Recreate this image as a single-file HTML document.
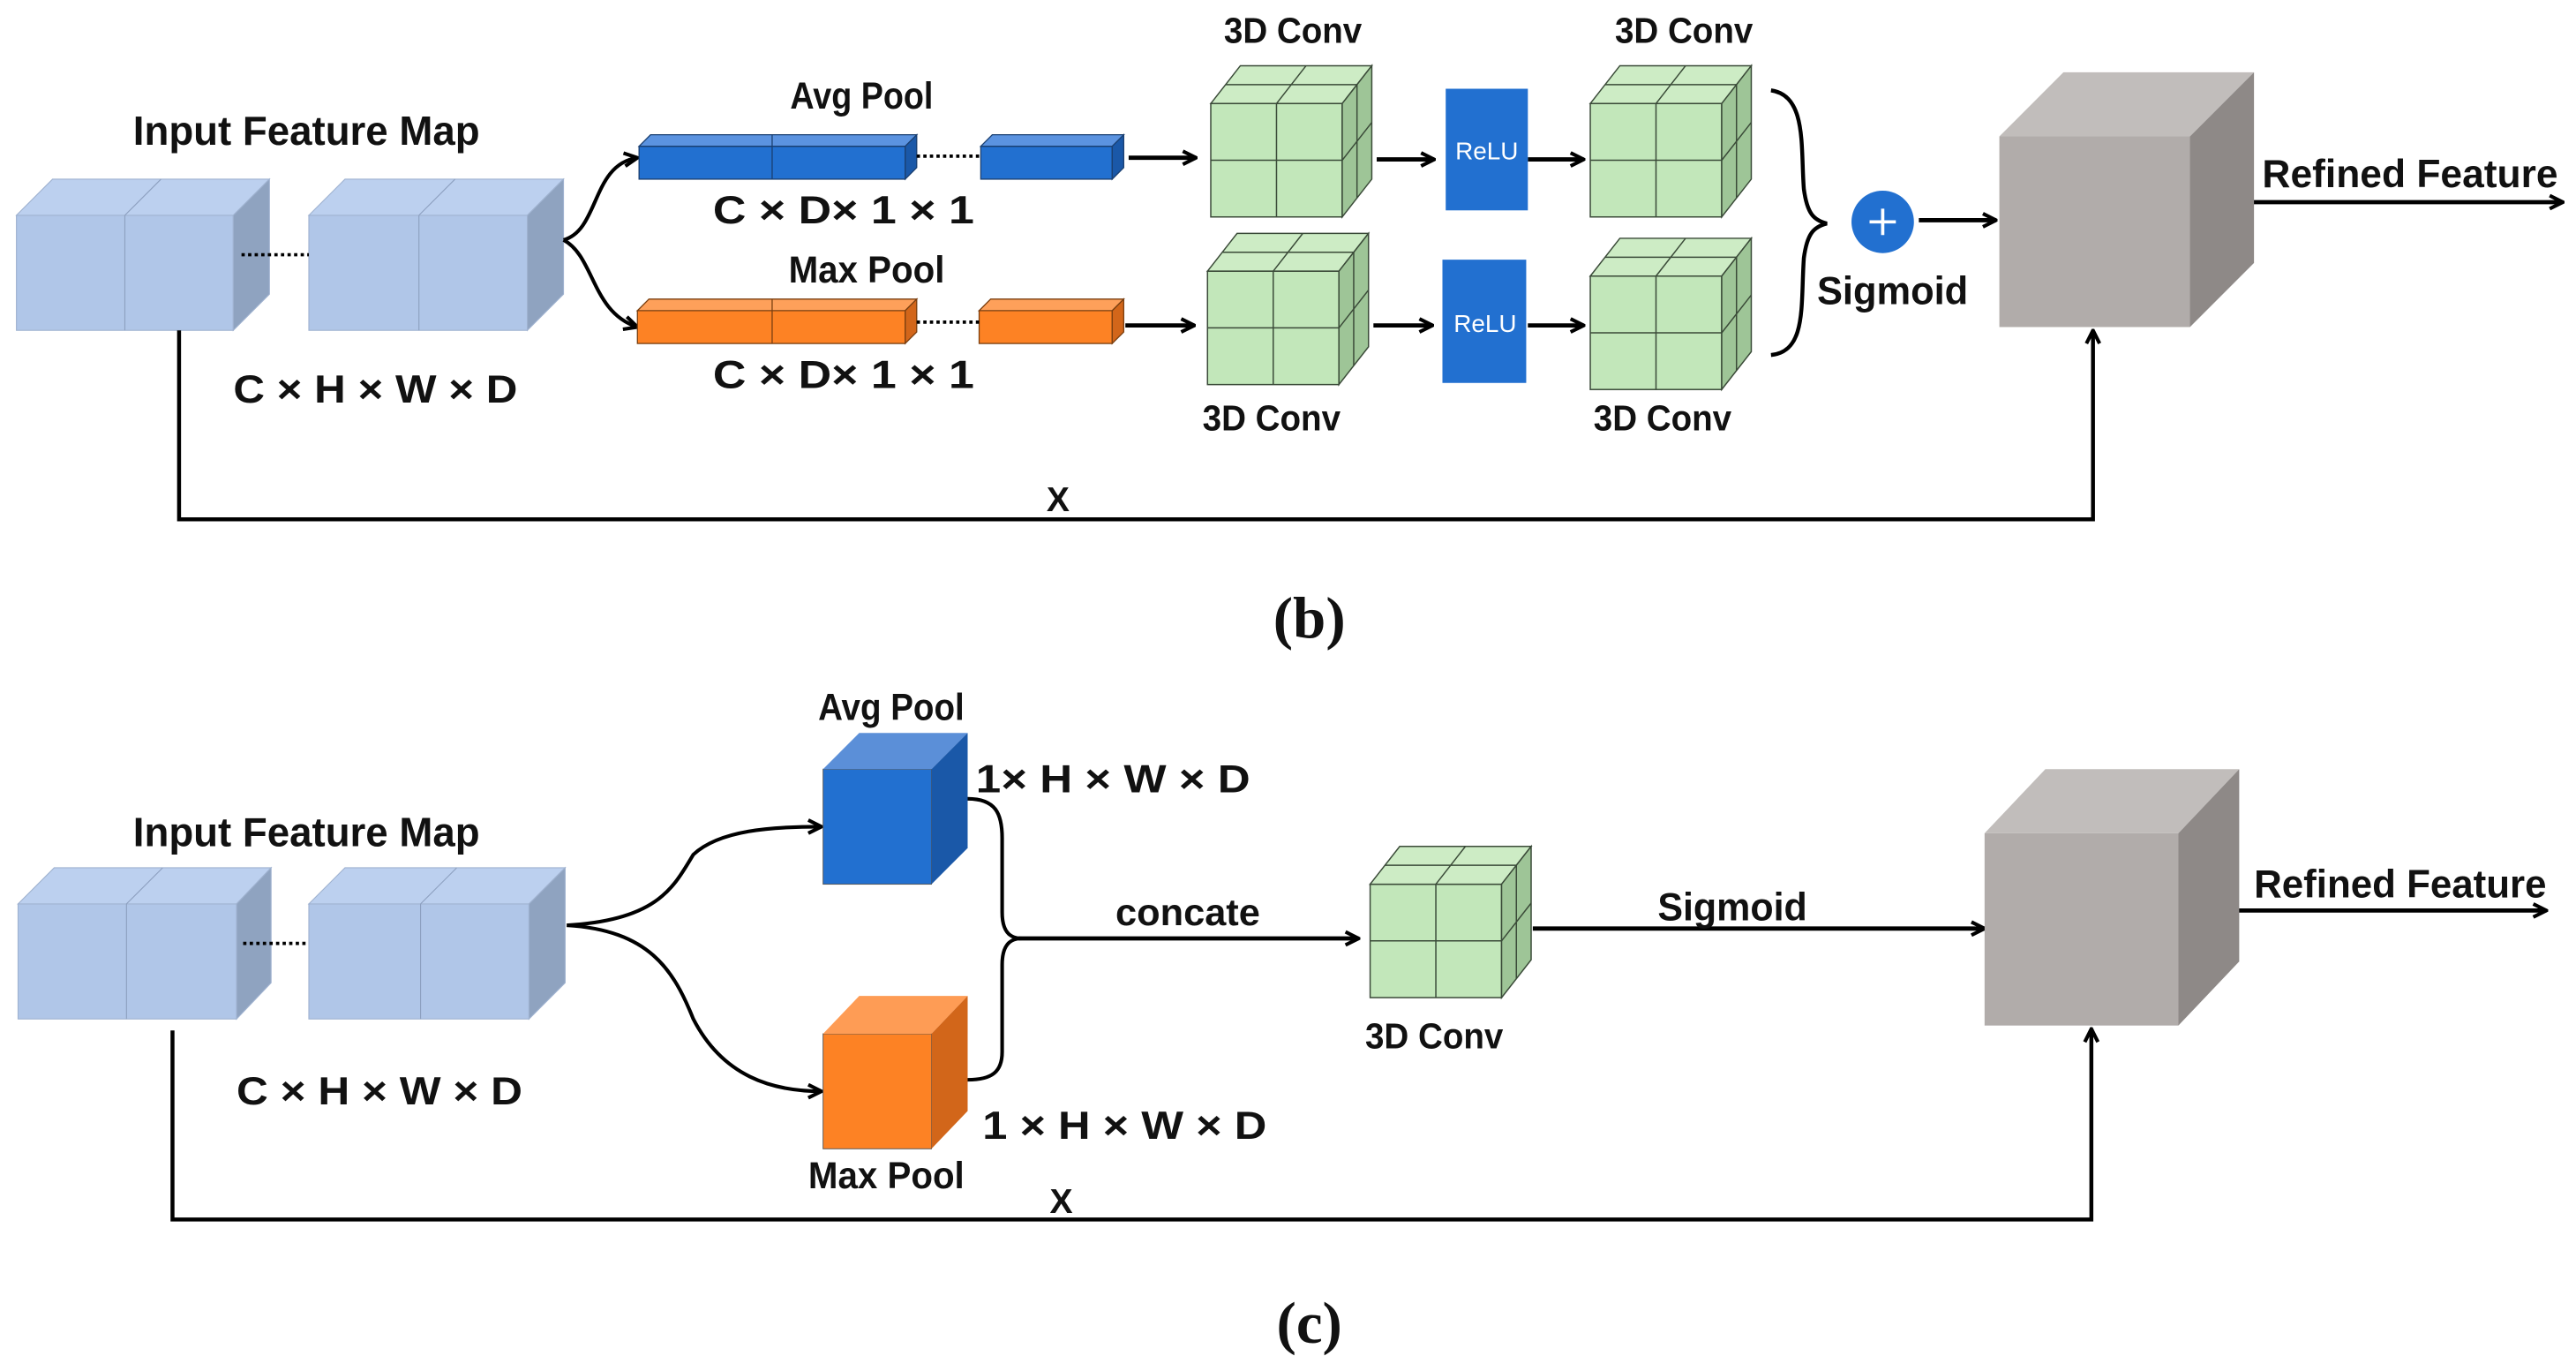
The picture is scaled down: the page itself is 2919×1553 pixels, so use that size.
<!DOCTYPE html>
<html><head><meta charset="utf-8"><style>
html,body{margin:0;padding:0;background:#fff;}
svg{display:block;}
text{font-family:"Liberation Sans",sans-serif;font-weight:bold;fill:#111;}
</style></head><body>
<svg width="2919" height="1553" viewBox="0 0 1568 834.2" preserveAspectRatio="none" xmlns="http://www.w3.org/2000/svg">
<defs>
<marker id="ah" viewBox="0 0 10 10" refX="9" refY="5" markerWidth="10" markerHeight="10" markerUnits="userSpaceOnUse" orient="auto">
<path d="M1,1 L9,5 L1,9" fill="none" stroke="#000" stroke-width="2.2"/>
</marker>
<g id="gc" stroke="#3a4a38" stroke-width="0.8">
<rect x="0" y="23" width="80" height="69" fill="#c2e7ba"/>
<polygon points="0,23 18,0 98,0 80,23" fill="#cdecc5"/>
<polygon points="80,23 98,0 98,69 80,92" fill="#9ec597"/>
<line x1="40" y1="23" x2="40" y2="92"/><line x1="0" y1="57.5" x2="80" y2="57.5"/>
<line x1="40" y1="23" x2="58" y2="0"/><line x1="9" y1="11.5" x2="89" y2="11.5"/>
<line x1="89" y1="11.5" x2="89" y2="80.5"/><line x1="80" y1="57.5" x2="98" y2="34.5"/>
</g>
</defs>

<!-- ===== Panel b ===== -->
<g stroke="#9fb2d0" stroke-width="0.6">
<rect x="10" y="131" width="132" height="70" fill="#b0c6e8"/>
<polygon points="10,131 32,109 164,109 142,131" fill="#bcd0ef"/>
<polygon points="142,131 164,109 164,179 142,201" fill="#8fa3c0"/>
<line x1="76" y1="131" x2="76" y2="201" stroke="#8da0c0"/><line x1="76" y1="131" x2="98" y2="109" stroke="#8da0c0"/>
<rect x="188" y="131" width="133" height="70" fill="#b0c6e8"/>
<polygon points="188,131 210,109 343,109 321,131" fill="#bcd0ef"/>
<polygon points="321,131 343,109 343,179 321,201" fill="#8fa3c0"/>
<line x1="255" y1="131" x2="255" y2="201" stroke="#8da0c0"/><line x1="255" y1="131" x2="277" y2="109" stroke="#8da0c0"/>
</g>
<line x1="147" y1="155" x2="188" y2="155" stroke="#000" stroke-width="2" stroke-dasharray="2,2"/>
<path d="M343,146 C365,140 360,100 388,96" fill="none" stroke="#000" stroke-width="2.2" marker-end="url(#ah)"/>
<path d="M343,146 C362,156 360,190 388,199" fill="none" stroke="#000" stroke-width="2.2" marker-end="url(#ah)"/>
<g stroke="#1a3f70" stroke-width="0.7">
<rect x="389" y="89" width="162" height="20" fill="#2270d0"/>
<polygon points="389,89 396,82 558,82 551,89" fill="#5b93e0"/>
<polygon points="551,89 558,82 558,102 551,109" fill="#1a58a8"/>
<line x1="470" y1="82" x2="470" y2="109"/>
<rect x="597" y="89" width="80" height="20" fill="#2270d0"/>
<polygon points="597,89 604,82 684,82 677,89" fill="#5b93e0"/>
<polygon points="677,89 684,82 684,102 677,109" fill="#1a58a8"/>
</g>
<line x1="558" y1="95" x2="597" y2="95" stroke="#000" stroke-width="2" stroke-dasharray="2,2"/>
<g stroke="#7a3f10" stroke-width="0.7">
<rect x="388" y="189" width="163" height="20" fill="#fd8224"/>
<polygon points="388,189 395,182 558,182 551,189" fill="#fea05a"/>
<polygon points="551,189 558,182 558,202 551,209" fill="#d2661a"/>
<line x1="470" y1="182" x2="470" y2="209"/>
<rect x="596" y="189" width="81" height="20" fill="#fd8224"/>
<polygon points="596,189 603,182 684,182 677,189" fill="#fea05a"/>
<polygon points="677,189 684,182 684,202 677,209" fill="#d2661a"/>
</g>
<line x1="558" y1="196" x2="596" y2="196" stroke="#000" stroke-width="2" stroke-dasharray="2,2"/>
<g stroke="#000" stroke-width="2.6" fill="none" marker-end="url(#ah)">
<line x1="687" y1="96" x2="728" y2="96"/>
<line x1="685" y1="198" x2="727" y2="198"/>
<line x1="838" y1="97" x2="873" y2="97"/>
<line x1="930" y1="97" x2="964" y2="97"/>
<line x1="836" y1="198" x2="872" y2="198"/>
<line x1="930" y1="198" x2="964" y2="198"/>
<line x1="1168" y1="134" x2="1215" y2="134"/>
<line x1="1371" y1="123" x2="1560" y2="123"/>
</g>
<use href="#gc" x="737" y="40"/>
<use href="#gc" x="968" y="40"/>
<use href="#gc" x="735" y="142"/>
<use href="#gc" x="968" y="145"/>
<rect x="880" y="54" width="50" height="74" fill="#2270d0"/>
<rect x="878" y="158" width="51" height="75" fill="#2270d0"/>
<text x="905" y="97" font-size="15" text-anchor="middle" style="fill:#fff;font-weight:normal">ReLU</text>
<text x="904" y="202" font-size="15" text-anchor="middle" style="fill:#fff;font-weight:normal">ReLU</text>
<path d="M1078,55 C1100,58 1096,90 1098,115 C1100,130 1104,134 1112,136 C1104,138 1100,142 1098,157 C1096,185 1100,214 1078,216" fill="none" stroke="#000" stroke-width="2.4"/>
<circle cx="1146" cy="135" r="19" fill="#2270d0"/>
<path d="M1146,127 V143 M1138,135 H1154" stroke="#fff" stroke-width="2"/>
<rect x="1217" y="83" width="116" height="116" fill="#b1acaa"/>
<polygon points="1217,83 1256,44 1372,44 1333,83" fill="#c1bdbb"/>
<polygon points="1333,83 1372,44 1372,160 1333,199" fill="#8e8987"/>
<path d="M109,201 V316 H1274 V201" fill="none" stroke="#000" stroke-width="2.4" marker-end="url(#ah)"/>
<text x="81" y="88" font-size="25" textLength="211" lengthAdjust="spacingAndGlyphs">Input Feature Map</text>
<text x="481" y="66" font-size="23" textLength="87" lengthAdjust="spacingAndGlyphs">Avg Pool</text>
<text x="434" y="136" font-size="24" textLength="159" lengthAdjust="spacingAndGlyphs">C  × D× 1 × 1</text>
<text x="480" y="172" font-size="23" textLength="95" lengthAdjust="spacingAndGlyphs">Max Pool</text>
<text x="434" y="236" font-size="24" textLength="159" lengthAdjust="spacingAndGlyphs">C  × D× 1 × 1</text>
<text x="142" y="245" font-size="24" textLength="173" lengthAdjust="spacingAndGlyphs">C × H × W × D</text>
<text x="745" y="26" font-size="22" textLength="84" lengthAdjust="spacingAndGlyphs">3D Conv</text>
<text x="983" y="26" font-size="22" textLength="84" lengthAdjust="spacingAndGlyphs">3D Conv</text>
<text x="732" y="262" font-size="22" textLength="84" lengthAdjust="spacingAndGlyphs">3D Conv</text>
<text x="970" y="262" font-size="22" textLength="84" lengthAdjust="spacingAndGlyphs">3D Conv</text>
<text x="1106" y="185" font-size="24" textLength="92" lengthAdjust="spacingAndGlyphs">Sigmoid</text>
<text x="1377" y="114" font-size="24" textLength="180" lengthAdjust="spacingAndGlyphs">Refined Feature</text>
<text x="644" y="311" font-size="21" text-anchor="middle">X</text>
<text x="797" y="388" font-size="36" text-anchor="middle" style="font-family:'Liberation Serif',serif">(b)</text>

<!-- ===== Panel c ===== -->
<g stroke="#9fb2d0" stroke-width="0.6">
<rect x="11" y="550" width="133" height="70" fill="#b0c6e8"/>
<polygon points="11,550 33,528 165,528 144,550" fill="#bcd0ef"/>
<polygon points="144,550 165,528 165,598 144,620" fill="#8fa3c0"/>
<line x1="77" y1="550" x2="77" y2="620" stroke="#8da0c0"/><line x1="77" y1="550" x2="99" y2="528" stroke="#8da0c0"/>
<rect x="188" y="550" width="134" height="70" fill="#b0c6e8"/>
<polygon points="188,550 210,528 344,528 322,550" fill="#bcd0ef"/>
<polygon points="322,550 344,528 344,598 322,620" fill="#8fa3c0"/>
<line x1="256" y1="550" x2="256" y2="620" stroke="#8da0c0"/><line x1="256" y1="550" x2="278" y2="528" stroke="#8da0c0"/>
</g>
<line x1="148" y1="574" x2="188" y2="574" stroke="#000" stroke-width="2" stroke-dasharray="2,2"/>
<path d="M345,563 C400,560 410,540 422,520 C438,505 470,503 500,503" fill="none" stroke="#000" stroke-width="2.2" marker-end="url(#ah)"/>
<path d="M345,563 C395,566 410,590 422,620 C440,655 470,664 500,664" fill="none" stroke="#000" stroke-width="2.2" marker-end="url(#ah)"/>
<rect x="501" y="468" width="66" height="70" fill="#2270d0" stroke="#555" stroke-width="0.5"/>
<polygon points="501,468 523,446 589,446 567,468" fill="#5b8fd8"/>
<polygon points="567,468 589,446 589,516 567,538" fill="#1a58a8"/>
<rect x="501" y="629" width="66" height="70" fill="#fd8224" stroke="#555" stroke-width="0.5"/>
<polygon points="501,629 523,606 589,606 567,629" fill="#fe9c55"/>
<polygon points="567,629 589,606 589,676 567,699" fill="#d2661a"/>
<path d="M589,486 C606,486 610,495 610,510 V555 C610,566 614,571 622,571 C614,571 610,576 610,587 V640 C610,652 604,657 589,657" fill="none" stroke="#000" stroke-width="2.2"/>
<g stroke="#000" stroke-width="2.6" fill="none" marker-end="url(#ah)">
<line x1="620" y1="571" x2="827" y2="571"/>
<line x1="933" y1="565" x2="1208" y2="565"/>
<line x1="1361" y1="554" x2="1550" y2="554"/>
</g>
<use href="#gc" x="834" y="515"/>
<rect x="1208" y="507" width="118" height="117" fill="#b1acaa"/>
<polygon points="1208,507 1245,468 1363,468 1326,507" fill="#c1bdbb"/>
<polygon points="1326,507 1363,468 1363,585 1326,624" fill="#8e8987"/>
<path d="M105,627 V742 H1273 V626" fill="none" stroke="#000" stroke-width="2.4" marker-end="url(#ah)"/>
<text x="81" y="515" font-size="25" textLength="211" lengthAdjust="spacingAndGlyphs">Input Feature Map</text>
<text x="498" y="438" font-size="23" textLength="89" lengthAdjust="spacingAndGlyphs">Avg Pool</text>
<text x="594" y="482" font-size="24" textLength="167" lengthAdjust="spacingAndGlyphs">1× H × W × D</text>
<text x="598" y="693" font-size="24" textLength="173" lengthAdjust="spacingAndGlyphs">1 × H × W × D</text>
<text x="492" y="723" font-size="23" textLength="95" lengthAdjust="spacingAndGlyphs">Max Pool</text>
<text x="144" y="672" font-size="24" textLength="174" lengthAdjust="spacingAndGlyphs">C × H × W × D</text>
<text x="679" y="563" font-size="23" textLength="88" lengthAdjust="spacingAndGlyphs">concate</text>
<text x="831" y="638" font-size="22" textLength="84" lengthAdjust="spacingAndGlyphs">3D Conv</text>
<text x="1009" y="560" font-size="24" textLength="91" lengthAdjust="spacingAndGlyphs">Sigmoid</text>
<text x="1372" y="546" font-size="24" textLength="178" lengthAdjust="spacingAndGlyphs">Refined Feature</text>
<text x="646" y="738" font-size="21" text-anchor="middle">X</text>
<text x="797" y="817" font-size="36" text-anchor="middle" style="font-family:'Liberation Serif',serif">(c)</text>
</svg>
</body></html>
